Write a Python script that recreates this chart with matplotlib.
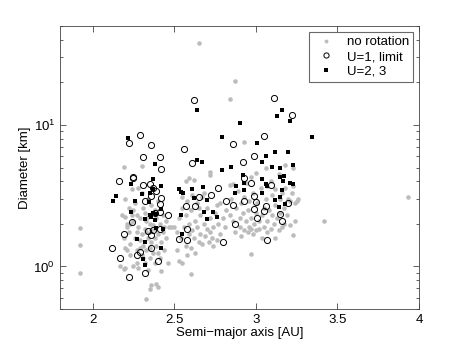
import numpy as np
import matplotlib
matplotlib.use("Agg")
import matplotlib.pyplot as plt
from matplotlib.ticker import LogLocator, NullFormatter, FixedLocator

plt.rcParams['font.family'] = ['Liberation Sans', 'DejaVu Sans']
plt.rcParams['mathtext.fontset'] = 'custom'
plt.rcParams['mathtext.rm'] = 'Liberation Sans'

# no rotation (gray dots): semi-major axis [AU], diameter [km]
gray_a = [1.92, 1.92, 1.92, 2.65, 2.875, 2.84, 2.93, 3.42, 3.93, 3.23, 2.97, 2.605,
          2.33, 2.35, 2.36, 2.39, 2.40, 2.19, 2.30, 2.20, 2.59, 2.72, 2.84, 2.97,
          2.18, 2.20, 2.21, 2.19, 2.20, 2.21, 2.17, 2.19, 2.20, 2.23, 2.22, 2.23,
          2.24, 2.22, 2.25, 2.26, 2.27, 2.27, 2.28, 2.28, 2.29, 2.29, 2.30, 2.30,
          2.31, 2.31, 2.32, 2.32, 2.33, 2.33, 2.34, 2.34, 2.35, 2.35, 2.36, 2.36,
          2.37, 2.37, 2.38, 2.38, 2.39, 2.39, 2.40, 2.40, 2.41, 2.41, 2.42, 2.42,
          2.43, 2.43, 2.44, 2.44, 2.45, 2.45, 2.47, 2.48, 2.46, 2.26, 2.28, 2.24,
          2.30, 2.25, 2.32, 2.34, 2.27, 2.36, 2.38, 2.34, 2.29, 2.31, 2.35, 2.33,
          2.40, 2.38, 2.21, 2.23, 2.25, 2.27,
          2.50, 2.52, 2.53, 2.53, 2.54, 2.55, 2.55, 2.56, 2.57, 2.57, 2.58, 2.59,
          2.59, 2.60, 2.60, 2.61, 2.61, 2.62, 2.63, 2.63, 2.64, 2.64, 2.65, 2.66,
          2.66, 2.67, 2.68, 2.68, 2.69, 2.70, 2.70, 2.71, 2.72, 2.72, 2.73, 2.74,
          2.75, 2.76, 2.77, 2.78, 2.78, 2.80, 2.81, 2.82, 2.55, 2.58, 2.65, 2.62,
          2.57, 2.72, 2.74, 2.67, 2.76, 2.52,
          2.84, 2.85, 2.86, 2.87, 2.88, 2.89, 2.90, 2.90, 2.91, 2.92, 2.93, 2.93,
          2.94, 2.95, 2.95, 2.96, 2.97, 2.97, 2.98, 2.98, 2.99, 3.00, 3.00, 3.01,
          3.02, 3.02, 3.03, 3.04, 3.04, 3.05, 3.05, 3.06, 3.07, 3.07, 3.08, 3.09,
          3.10, 3.10, 3.11, 3.12, 3.12, 3.13, 3.14, 3.15, 3.15, 3.16, 3.17, 3.17,
          3.18, 3.19, 3.20, 3.21, 3.22, 3.23, 3.24, 3.25, 3.26, 3.24, 3.21, 3.14,
          3.09, 3.06, 3.18, 3.23, 3.00, 2.94, 2.86, 3.12, 3.07, 2.96, 2.91, 3.16]
gray_d = [1.86, 1.41, 0.90, 38.0, 20.6, 15.3, 7.6, 2.11, 3.11, 1.66, 1.23, 0.89,
          0.59, 0.69, 0.74, 0.75, 0.71, 5.06, 5.10, 3.02, 4.19, 4.66, 3.76, 4.30,
          2.30, 2.25, 1.90, 1.60, 1.35, 1.30, 1.00, 0.96, 0.97, 1.45, 1.75, 2.00,
          2.30, 2.60, 2.50, 1.60, 1.30, 1.05, 0.98, 1.90, 2.20, 1.55, 1.20, 1.70,
          2.60, 1.40, 1.05, 1.85, 2.10, 1.30, 1.60, 0.95, 1.15, 2.00, 1.50, 2.70,
          1.25, 1.95, 1.60, 1.05, 2.20, 1.40, 1.70, 2.90, 1.15, 2.00, 1.50, 0.93,
          1.75, 2.30, 1.30, 1.90, 2.10, 1.60, 1.90, 1.90, 1.05, 2.80, 3.60, 3.50,
          3.30, 2.10, 2.40, 3.00, 2.30, 1.80, 2.50, 2.25, 1.35, 1.15, 1.35, 1.75,
          1.25, 1.85, 2.00, 1.20, 1.00, 1.75,
          1.90, 1.30, 1.10, 2.20, 1.60, 2.60, 1.05, 1.90, 1.40, 2.30, 1.20, 1.70,
          2.00, 2.50, 1.35, 1.80, 3.20, 1.60, 2.10, 1.25, 1.90, 2.80, 1.50, 1.70,
          2.30, 1.45, 2.00, 3.30, 1.65, 1.85, 2.60, 1.50, 2.20, 1.75, 1.60, 1.90,
          2.40, 1.55, 2.00, 1.70, 2.80, 2.20, 1.90, 2.50, 3.10, 2.90, 2.60, 4.10,
          4.00, 4.40, 1.40, 3.10, 2.70, 1.75,
          2.30, 3.00, 2.10, 1.75, 2.60, 3.40, 2.20, 1.90, 2.80, 2.40, 1.80, 3.10,
          2.10, 1.75, 2.50, 2.90, 1.85, 2.20, 3.30, 1.70, 2.00, 2.40, 1.80, 2.80,
          2.10, 1.85, 3.60, 2.30, 1.60, 2.60, 1.90, 3.00, 2.10, 3.70, 2.50, 1.85,
          3.20, 2.30, 2.00, 2.70, 3.50, 2.20, 1.80, 3.00, 2.40, 3.30, 2.00, 2.60,
          3.60, 2.30, 3.00, 2.90, 3.30, 3.70, 2.80, 2.90, 3.00, 2.10, 1.95, 4.50,
          4.00, 5.00, 5.20, 5.00, 4.60, 3.90, 3.80, 1.60, 1.75, 1.90, 1.65, 1.90]

# U=1, limit (open circles)
open_a = [2.29, 2.22, 2.36, 2.31, 2.41, 2.42, 2.245, 2.25, 2.16, 2.31, 2.35, 2.37,
          2.39, 2.36, 2.32, 2.42, 2.415, 2.415, 2.38, 2.46, 2.24, 2.19, 2.34, 2.37,
          2.41, 2.36, 2.12, 2.36, 2.27, 2.29, 2.17, 2.40, 2.22, 2.32,
          2.62, 2.56, 2.61, 2.575, 2.63, 2.65, 2.725, 2.58, 2.53, 2.58, 2.77, 2.82,
          2.86, 2.87, 2.80, 2.86, 2.92, 2.93, 2.93, 2.97, 2.99, 2.99, 3.00, 2.99,
          3.01, 3.05, 3.06, 3.05, 3.09, 3.07, 3.11, 3.22, 3.20, 3.15, 3.16]
open_d = [8.46, 7.47, 7.19, 5.89, 5.89, 4.87, 4.30, 4.25, 3.99, 3.78, 3.80, 3.60,
          3.41, 3.14, 2.92, 3.04, 2.76, 2.44, 2.37, 2.31, 2.05, 1.70, 1.78, 1.81,
          1.85, 1.67, 1.35, 1.35, 1.20, 1.27, 1.14, 1.10, 0.84, 0.90,
          15.1, 6.78, 5.37, 2.69, 2.69, 3.09, 3.20, 1.85, 1.56, 1.53, 3.60, 2.88,
          2.70, 1.99, 1.48, 7.30, 5.46, 4.24, 2.92, 3.90, 6.07, 3.14, 2.85, 2.55,
          2.19, 8.37, 2.69, 2.46, 3.76, 1.54, 15.5, 11.8, 2.81, 2.34, 2.10]

# U=2, 3 (black squares)
sq_a = [2.219, 2.141, 2.127, 2.235, 2.233, 2.26, 2.27, 2.30, 2.31, 2.32, 2.32, 2.32,
        2.345, 2.35, 2.35, 2.36, 2.37, 2.37, 2.38, 2.37, 2.385, 2.39, 2.39, 2.42,
        2.42, 2.43, 2.42, 2.53, 2.54, 2.555, 2.54, 2.55, 2.61, 2.62, 2.64, 2.67,
        2.64, 2.675, 2.68, 2.70, 2.70, 2.74, 2.76, 2.795, 2.795, 2.87, 2.88, 2.85,
        2.90, 2.92, 2.93, 2.93, 3.01, 3.04, 3.04, 3.06, 3.065, 3.04, 3.07, 3.10,
        3.12, 3.12, 3.13, 3.14, 3.16, 3.15, 3.15, 3.16, 3.165, 3.17, 3.15, 3.18,
        3.20, 3.21, 3.21, 3.23, 3.225, 3.345]
sq_d = [8.06, 3.15, 2.88, 3.80, 2.43, 2.92, 1.56, 3.25, 1.13, 2.15, 1.02, 1.48,
        2.85, 3.32, 2.31, 2.25, 2.40, 4.12, 5.31, 3.54, 2.13, 1.87, 2.34, 3.68,
        2.53, 1.85, 1.34, 3.52, 3.38, 3.28, 2.31, 1.69, 3.52, 3.03, 5.61, 5.46,
        12.8, 3.66, 2.41, 2.17, 2.95, 2.41, 2.22, 4.77, 8.23, 3.32, 3.72, 5.06,
        10.4, 4.44, 3.88, 3.47, 7.43, 5.46, 4.17, 6.02, 3.80, 3.32, 3.70, 5.01,
        2.93, 6.45, 11.6, 2.63, 12.8, 4.93, 4.28, 3.45, 3.99, 4.37, 3.09, 2.76,
        6.42, 10.7, 3.86, 5.20, 3.80, 8.27]

fig = plt.figure(figsize=(4.63, 3.48), dpi=100)
ax = fig.add_axes([0.1296, 0.112, 0.7754, 0.813])

ax.plot(gray_a, gray_d, 'o', color='#bcbcbc', markersize=3.3, markeredgewidth=0,
        label='no rotation', linestyle='none')
ax.plot(open_a, open_d, 'o', markerfacecolor='none', markeredgecolor='black',
        markersize=4.4, markeredgewidth=0.7, label='U=1, limit', linestyle='none')
ax.plot(sq_a, sq_d, 's', color='black', markersize=2.8, markeredgewidth=0,
        label='U=2, 3', linestyle='none')

ax.set_yscale('log')
ax.set_xlim(1.8, 4)
ax.set_ylim(0.5, 50)
ax.xaxis.set_major_locator(FixedLocator([2, 2.5, 3, 3.5, 4]))
ax.set_xticklabels(['2', '2.5', '3', '3.5', '4'])
ax.yaxis.set_major_locator(FixedLocator([1, 10]))
ax.set_yticklabels([r'$10^0$', r'$10^1$'])
ax.yaxis.set_minor_locator(LogLocator(base=10, subs=np.arange(2, 10)))
ax.yaxis.set_minor_formatter(NullFormatter())

ax.tick_params(which='both', direction='in', top=True, right=True, labelsize=9.5,
               color='#444444', width=0.6)
ax.tick_params(which='major', length=4)
ax.tick_params(which='minor', length=2.2)
for s in ax.spines.values():
    s.set_color('#444444')
    s.set_linewidth(0.6)

ax.set_xlabel('Semi\u2212major axis [AU]', fontsize=9.5, labelpad=1)
ax.set_ylabel('Diameter [km]', fontsize=9.5, labelpad=2)

leg = ax.legend(loc='upper right', fontsize=9.5, frameon=True, fancybox=False,
                borderaxespad=0.45, handletextpad=0.6, handlelength=2.0,
                borderpad=0.3, labelspacing=0.2, markerscale=0.85)
leg.get_frame().set_edgecolor('#444444')
leg.get_frame().set_linewidth(0.8)

plt.savefig('out.png', dpi=100)
plt.close()
